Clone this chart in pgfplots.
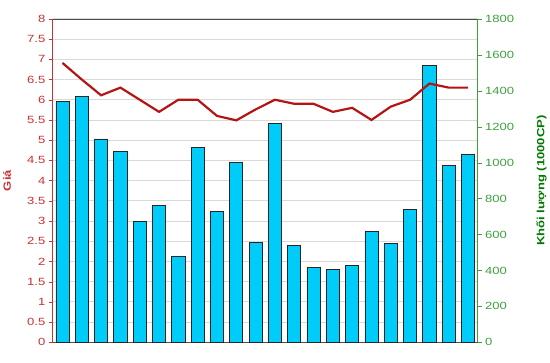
\documentclass[border=0pt]{standalone}
\usepackage{pgfplots}
\pgfplotsset{compat=1.18}
\usepackage{fontspec}
\setmainfont{Liberation Sans}[FakeStretch=1.25]
\definecolor{barfill}{RGB}{0,204,250}
\definecolor{pricered}{RGB}{180,20,20}
\definecolor{axred}{RGB}{200,50,50}
\definecolor{axgreen}{RGB}{60,160,60}
\definecolor{labgreen}{RGB}{0,120,0}
\begin{document}
\begin{tikzpicture}
\pgfplotsset{
  every axis/.append style={
    scale only axis, width=427pt, height=325pt,
    xmin=0, xmax=22, at={(0,0)}, anchor=south west,
    /pgf/number format/assume math mode=true,
    /pgf/number format/1000 sep={},
    tick label style={font=\fontsize{10.5}{12}\selectfont},
  }
}
% price axis with grid (background)
\begin{axis}[
  ymin=0, ymax=8, ytick={0,0.5,...,8},
  axis x line=box, axis y line*=left,
  xtick=\empty,
  ymajorgrids, grid style={gray!30, line width=0.9pt},
  y axis line style={axred, line width=0.8pt},
  x axis line style={black!70, line width=0.7pt},
  y tick style={axred}, tick align=outside, major tick length=4pt,
  yticklabel style={text=axred},
  /pgf/number format/.cd, fixed, use period,
  /pgfplots/ylabel={\bfseries Giá}, /pgfplots/ylabel style={text=axred, font=\fontsize{10.5}{12}\selectfont\bfseries, at={(-0.09,0.5)}},
]
\end{axis}
% volume bars
\begin{axis}[
  ymin=0, ymax=1800, ytick={0,200,...,1800},
  axis x line=none, axis y line*=right,
  y axis line style={axgreen, line width=0.8pt},
  y tick style={axgreen}, tick align=outside, major tick length=4pt,
  yticklabel style={text=axgreen},
  ylabel={Khối lượng (1000CP)},
  ylabel style={text=labgreen, font=\fontsize{10.5}{12}\selectfont\bfseries, at={(1.13,0.5)}},
  ybar, bar width=0.68, bar shift=0pt,
]
\addplot[fill=barfill, draw=black!85, line width=0.8pt] coordinates {
(0.5,1339) (1.5,1366) (2.5,1132) (3.5,1062) (4.5,675) (5.5,760) (6.5,477)
(7.5,1085) (8.5,727) (9.5,1002) (10.5,554) (11.5,1219) (12.5,538) (13.5,416)
(14.5,405) (15.5,428) (16.5,617) (17.5,548) (18.5,737) (19.5,1542) (20.5,982)
(21.5,1047)};
\end{axis}
% price line
\begin{axis}[
  ymin=0, ymax=8, hide axis,
]
\addplot[pricered, line width=2.2pt, mark=none] coordinates {
(0.5,6.91) (1.5,6.5) (2.5,6.11) (3.5,6.3) (4.5,6.0) (5.5,5.7) (6.5,6.0)
(7.5,6.0) (8.5,5.6) (9.5,5.49) (10.5,5.76) (11.5,6.0) (12.5,5.9) (13.5,5.9)
(14.5,5.7) (15.5,5.8) (16.5,5.5) (17.5,5.83) (18.5,6.0) (19.5,6.4) (20.5,6.3)
(21.5,6.3)};
\end{axis}
\path[use as bounding box] (-53pt,-20pt) rectangle (497pt,344pt);
\end{tikzpicture}
\end{document}
